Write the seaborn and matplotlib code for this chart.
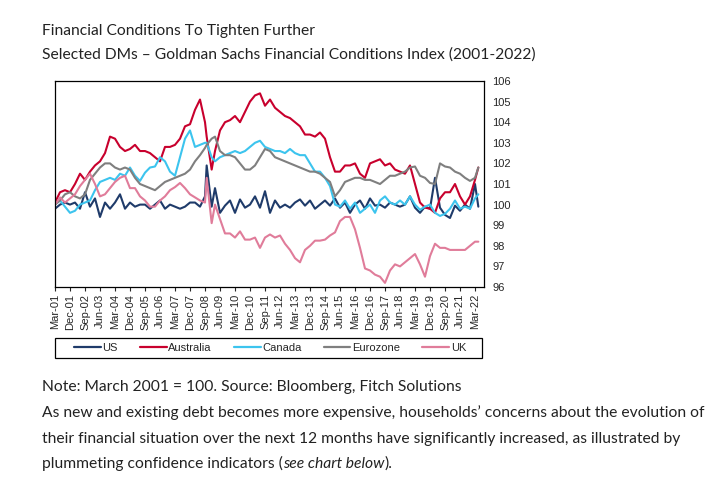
import numpy as np
import pandas as pd
import matplotlib
matplotlib.use("Agg")
import matplotlib.pyplot as plt
import seaborn as sns
from matplotlib.lines import Line2D
from matplotlib.patches import Rectangle

# --- dados (meses desde Mar-01) ---
months = [0, 3, 6, 9, 12, 15, 18, 21, 24, 27, 30, 33, 36, 39, 42, 45, 48, 51, 54, 57,
          60, 63, 66, 69, 72, 75, 78, 81, 84, 87, 90, 91, 94, 96, 99, 102, 105, 108, 111,
          114, 117, 120, 123, 126, 129, 132, 135, 138, 141, 144, 147, 150, 153, 156, 159,
          162, 165, 168, 171, 174, 177, 180, 183, 186, 189, 192, 195, 198, 201, 204, 207,
          210, 213, 216, 219, 222, 225, 228, 231, 234, 237, 240, 243, 246, 249, 252, 254]

us = [99.8, 100.0, 100.1, 100.0, 100.1, 99.8, 100.6, 99.9, 100.3, 99.4, 100.1, 99.8, 100.1,
      100.5, 99.8, 100.1, 99.9, 100.0, 100.0, 99.8, 100.0, 100.2, 99.8, 100.0, 99.9, 99.8,
      99.9, 100.1, 100.1, 99.9, 100.4, 101.9, 99.9, 100.8, 99.6, 99.95, 100.2, 99.6, 100.25,
      99.85, 100.0, 100.4, 99.85, 100.65, 99.6, 100.2, 99.85, 100.0, 99.85, 100.1, 100.25,
      99.95, 100.2, 99.8, 100.0, 100.2, 99.95, 100.3, 99.85, 100.1, 99.6, 100.0, 100.2, 99.8,
      100.3, 99.95, 100.0, 99.85, 100.1, 100.0, 99.9, 100.0, 100.4, 99.85, 99.6, 99.9, 99.8,
      101.3, 99.85, 99.5, 99.35, 99.95, 99.7, 100.0, 99.8, 101.0, 99.9]

australia = [100.1, 100.6, 100.7, 100.6, 101.0, 101.5, 101.2, 101.6, 101.9, 102.1, 102.5,
             103.3, 103.2, 102.8, 102.6, 102.7, 102.9, 102.6, 102.6, 102.5, 102.3, 102.1,
             102.8, 102.8, 102.9, 103.2, 103.8, 103.9, 104.6, 105.1, 104.0, 103.3, 101.7,
             102.6, 103.6, 104.0, 104.1, 104.3, 104.0, 104.5, 105.0, 105.3, 105.4, 104.8,
             105.1, 104.7, 104.5, 104.3, 104.2, 104.0, 103.8, 103.4, 103.4, 103.3, 103.5,
             103.2, 102.3, 101.6, 101.6, 101.9, 101.9, 102.0, 101.5, 101.3, 102.0, 102.1,
             102.2, 101.9, 102.0, 101.7, 101.6, 101.5, 101.9, 101.0, 100.1, 99.85, 99.8, 99.6,
             100.3, 100.6, 100.6, 101.0, 100.4, 100.0, 100.4, 101.2, 101.8]

canada = [100.0, 100.2, 99.9, 99.6, 99.7, 100.0, 100.1, 100.2, 100.7, 101.1, 101.2, 101.3,
          101.2, 101.5, 101.4, 101.8, 101.4, 101.15, 101.55, 101.8, 101.85, 102.3, 102.1,
          101.6, 101.4, 102.3, 103.2, 103.6, 102.8, 102.9, 103.0, 103.0, 102.3, 102.1, 102.3,
          102.4, 102.5, 102.6, 102.5, 102.6, 102.8, 103.0, 103.1, 102.8, 102.7, 102.6, 102.6,
          102.5, 102.7, 102.5, 102.4, 102.4, 102.0, 101.6, 101.6, 101.3, 100.9, 100.0, 99.9,
          100.2, 99.8, 100.1, 99.6, 99.8, 100.0, 99.6, 100.2, 100.4, 100.1, 100.0, 100.2,
          100.0, 100.4, 100.0, 99.75, 99.9, 100.0, 99.6, 99.45, 99.55, 99.8, 100.2, 99.8,
          99.9, 99.8, 100.3, 100.5]

eurozone = [100.0, 100.2, 100.5, 100.6, 100.4, 100.3, 100.5, 101.2, 101.5, 101.8, 102.0,
            102.0, 101.8, 101.7, 101.8, 101.7, 101.3, 101.0, 100.9, 100.8, 100.7, 100.9,
            101.1, 101.2, 101.3, 101.4, 101.5, 101.7, 102.1, 102.4, 102.75, 102.9, 103.2,
            103.3, 102.6, 102.4, 102.4, 102.3, 102.0, 101.7, 101.7, 101.9, 102.3, 102.7,
            102.6, 102.3, 102.2, 102.1, 102.0, 101.9, 101.8, 101.7, 101.6, 101.6, 101.5,
            101.3, 101.1, 100.4, 100.7, 101.1, 101.2, 101.3, 101.3, 101.2, 101.2, 101.1,
            101.0, 101.2, 101.4, 101.4, 101.5, 101.6, 101.8, 101.85, 101.4, 101.3, 101.05,
            101.0, 102.0, 101.85, 101.8, 101.6, 101.5, 101.3, 101.15, 101.3, 101.8]

uk = [100.0, 100.35, 100.1, 100.3, 100.5, 100.9, 101.2, 101.5, 101.0, 100.4, 100.5, 100.8,
      101.1, 101.3, 101.4, 100.8, 100.8, 100.4, 100.2, 99.9, 99.9, 100.2, 100.4, 100.7,
      100.85, 101.05, 100.8, 100.5, 100.35, 100.2, 100.1, 101.3, 99.1, 100.0, 99.3, 98.6,
      98.6, 98.4, 98.7, 98.3, 98.3, 98.4, 97.9, 98.4, 98.55, 98.4, 98.5, 98.1, 97.8, 97.4,
      97.2, 97.8, 98.0, 98.25, 98.25, 98.3, 98.5, 98.65, 99.2, 99.4, 99.4, 98.8, 97.9, 96.9,
      96.8, 96.6, 96.5, 96.2, 96.8, 97.1, 97.0, 97.2, 97.4, 97.6, 97.1, 96.5, 97.5, 98.1,
      97.9, 97.9, 97.8, 97.8, 97.8, 97.8, 98.0, 98.2, 98.2]

series_names = ["US", "Australia", "Canada", "Eurozone", "UK"]
cores = ["#1f3b6a", "#c8002d", "#3cc4ee", "#7f7f7f", "#e07c9a"]

tick_labels = ["Mar-01", "Dec-01", "Sep-02", "Jun-03", "Mar-04", "Dec-04", "Sep-05",
               "Jun-06", "Mar-07", "Dec-07", "Sep-08", "Jun-09", "Mar-10", "Dec-10",
               "Sep-11", "Jun-12", "Mar-13", "Dec-13", "Sep-14", "Jun-15", "Mar-16",
               "Dec-16", "Sep-17", "Jun-18", "Mar-19", "Dec-19", "Sep-20", "Jun-21", "Mar-22"]

# --- monta dataframe longo ---
valores = [us, australia, canada, eurozone, uk]
for v in valores:
    assert len(v) == len(months), len(v)
df = pd.concat([pd.DataFrame({"month": months, "value": v, "series": n})
                for n, v in zip(series_names, valores)], ignore_index=True)

sns.set_style("white")
plt.rcParams["font.family"] = ["Liberation Sans", "DejaVu Sans"]

W, H = 721, 483
fig = plt.figure(figsize=(W / 100, H / 100), dpi=100)
fig.patch.set_facecolor("white")

# eixo em pixels: x 55-484, y 81-287
ax = fig.add_axes([55 / W, 1 - 287 / H, (484 - 55) / W, (287 - 81) / H])
sns.lineplot(data=df, x="month", y="value", hue="series", hue_order=series_names,
             palette=dict(zip(series_names, cores)), linewidth=1.5, estimator=None,
             legend=False, ax=ax)

ax.set_xlim(0, 257.4)
ax.set_ylim(96, 106)
ax.set_xlabel("")
ax.set_ylabel("")
ax.yaxis.tick_right()
ax.set_yticks(range(96, 107))
ax.tick_params(axis="y", which="both", length=0, pad=6, labelsize=8, right=True, left=False)
ax.set_xticks(range(0, 253, 9))
ax.set_xticklabels(tick_labels, rotation=90)
ax.tick_params(axis="x", length=3, width=0.8, direction="out", pad=2, labelsize=8, bottom=True)
for s in ax.spines.values():
    s.set_color("black")
    s.set_linewidth(0.9)

# --- legenda com caixa ---
handles = [Line2D([], [], color=c, lw=1.6) for c in cores]
fig.legend(handles, series_names, loc="center", bbox_to_anchor=(270 / W, 1 - 348 / H),
           ncol=5, frameon=False, handlelength=2.4, handletextpad=0.15,
           columnspacing=2.0, fontsize=8)
fig.patches.append(Rectangle((55 / W, 1 - 358 / H), (482 - 55) / W, (358 - 338) / H,
                             transform=fig.transFigure, fill=False, edgecolor="black", lw=0.9))

# --- textos da página ---
txt = dict(family="Lato", fontsize=11.25, color="#222222", va="center_baseline")
fig.text(42 / W, 1 - 29 / H, "Financial Conditions To Tighten Further", **txt)
fig.text(42 / W, 1 - 53 / H, "Selected DMs \u2013 Goldman Sachs Financial Conditions Index (2001-2022)", **txt)
fig.text(42 / W, 1 - 385 / H, "Note: March 2001 = 100. Source: Bloomberg, Fitch Solutions", **txt)
fig.text(42 / W, 1 - 411 / H, "As new and existing debt becomes more expensive, households\u2019 concerns about the evolution of", **txt)
fig.text(42 / W, 1 - 437 / H, "their financial situation over the next 12 months have significantly increased, as illustrated by", **txt)

# última linha com trecho em itálico
fig.canvas.draw()
r = fig.canvas.get_renderer()
x = 42
for parte, estilo in [("plummeting confidence indicators (", "normal"),
                      ("see chart below", "italic"), (").", "normal")]:
    t = fig.text(x / W, 1 - 462 / H, parte, style=estilo, **txt)
    x += t.get_window_extent(renderer=r).width

fig.savefig("out.png", dpi=100, facecolor="white")
